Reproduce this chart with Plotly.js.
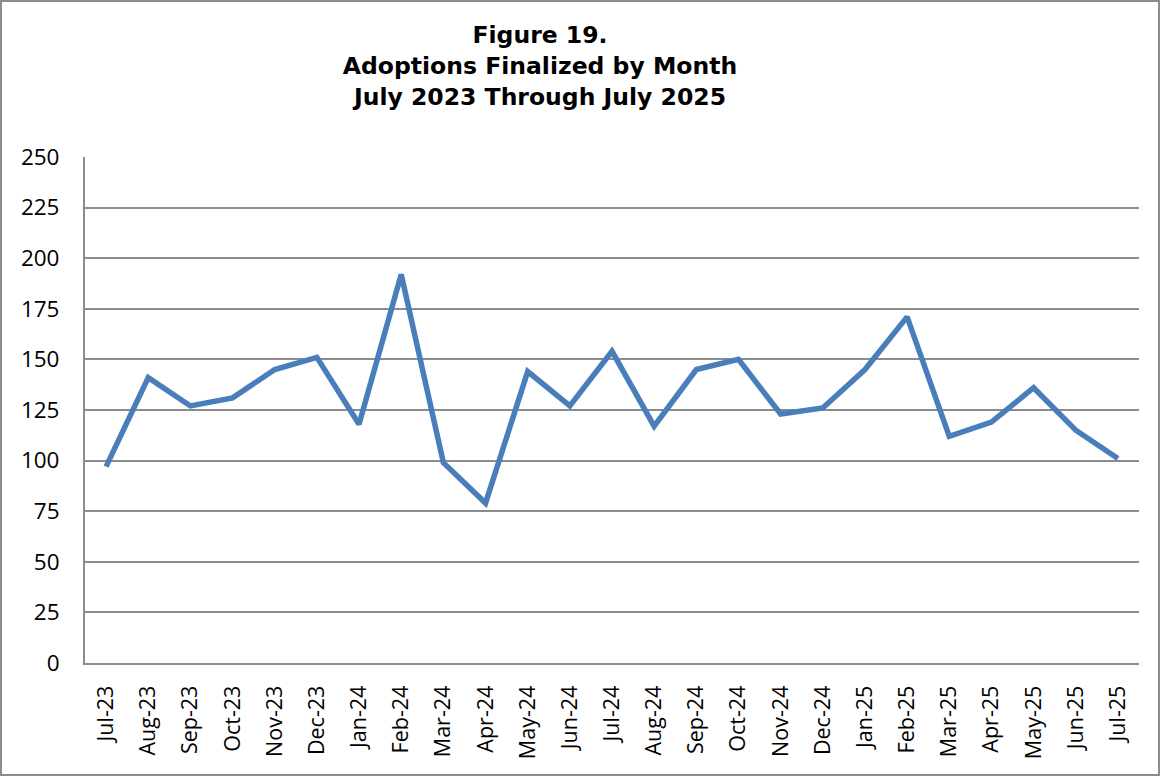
<!DOCTYPE html>
<html><head><meta charset="utf-8">
<script src="https://cdn.plot.ly/plotly-3.0.1.min.js"></script>
<style>html,body{margin:0;padding:0;background:#fff}#c{width:1160px;height:776px}
#frame{position:absolute;left:0;top:0;width:1156px;height:772px;border:2px solid #8c8c8c;pointer-events:none}</style>
</head><body><div id="c"></div><div id="frame"></div>
<script>
const months = ["Jul-23","Aug-23","Sep-23","Oct-23","Nov-23","Dec-23","Jan-24","Feb-24","Mar-24","Apr-24","May-24","Jun-24","Jul-24","Aug-24","Sep-24","Oct-24","Nov-24","Dec-24","Jan-25","Feb-25","Mar-25","Apr-25","May-25","Jun-25","Jul-25"];
const adoptions = [97,141,127,131,145,151,118,192,99,79,144,127,154,117,145,150,123,126,145,171,112,119,136,115,101];
const yTicks = [0,25,50,75,100,125,150,175,200,225,250];

const trace = {x: months, y: adoptions, type: "scatter", mode: "lines",
  line: {color: "#4a7ebb", width: 5.5}, hoverinfo: "x+y"};
const layout = {
  width: 1160, height: 776,
  margin: {l: 85, r: 21, t: 157, b: 113},
  paper_bgcolor: "#fff", plot_bgcolor: "#fff",
  showlegend: false,
  title: {text: "<b>Figure 19.<br>Adoptions Finalized by Month<br>July 2023 Through July 2025</b>",
    font: {family: "DejaVu Sans", size: 23.5, color: "#000"}, x: 540/1160, xanchor: "center", y: 0.944, yanchor: "top"},
  xaxis: {type: "category", range: [-0.5, 24.5], tickangle: -90,
    tickfont: {family: "Open Sans", size: 21.5, color: "#000"},
    showgrid: false, showline: true, linecolor: "#8c8c8c", linewidth: 2,
    ticks: "outside", ticklen: 12, tickcolor: "rgba(0,0,0,0)", zeroline: false, fixedrange: true},
  yaxis: {range: [0, 250], tickvals: yTicks, ticktext: yTicks.map(String),
    tickfont: {family: "Open Sans", size: 22.5, color: "#000"},
    showgrid: true, gridcolor: "#8c8c8c", gridwidth: 2,
    showline: true, linecolor: "#8c8c8c", linewidth: 2,
    ticks: "outside", ticklen: 19, tickcolor: "rgba(0,0,0,0)", zeroline: false, fixedrange: true}
};
Plotly.newPlot("c", [trace], layout, {displayModeBar: false, staticPlot: true});
</script></body></html>
